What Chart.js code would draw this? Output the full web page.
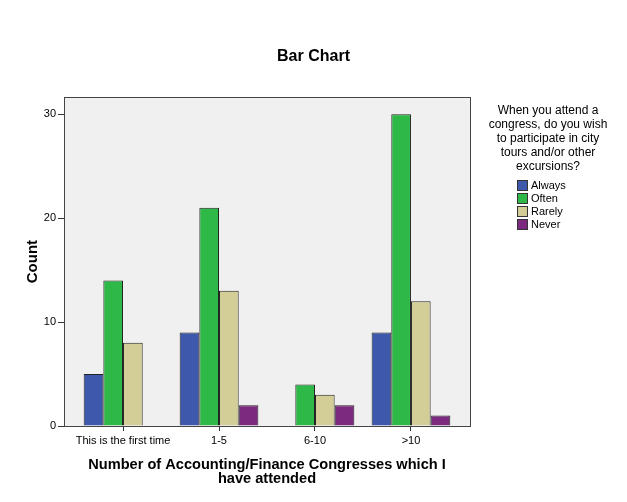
<!DOCTYPE html>
<html>
<head>
<meta charset="utf-8">
<script src="https://cdn.jsdelivr.net/npm/chart.js@4/dist/chart.umd.min.js"></script>
<style>
  html, body { margin: 0; padding: 0; background: #fff; }
  #wrap { width: 627px; height: 502px; }
</style>
</head>
<body>
<div id="wrap"><canvas id="myChart" width="627" height="502"></canvas></div>
<script>
// Data
let categories = ["This is the first time", "1-5", "6-10", ">10"];
let always = [5, 9, 0, 9];
let often = [14, 21, 4, 30];
let rarely = [8, 13, 3, 12];
let never = [0, 2, 2, 1];
let yTicks = [0, 10, 20, 30];
let legendTitle = ["When you attend a", "congress, do you wish", "to participate in city", "tours and/or other", "excursions?"];

let font = "'Liberation Sans', Arial, sans-serif";
Chart.defaults.font.family = font;
Chart.defaults.color = "#000";

// turn the arrays into {x, y} points, empty cells are left out
function points(arr) {
    return arr.map((v, i) => ({ x: i, y: v === 0 ? null : v }));
}

function makeSet(label, arr, color) {
    return {
        label: label,
        data: points(arr),
        backgroundColor: color,
        borderColor: "#222",
        borderWidth: 1,
        categoryPercentage: 0.82,
        barPercentage: 1,
    };
}

// gray plot area with a frame
let plotBox = {
    id: "plotBox",
    beforeDatasetsDraw(chart) {
        let a = chart.chartArea;
        let c = chart.ctx;
        c.save();
        c.fillStyle = "#f0f0f0";
        c.fillRect(a.left, a.top, a.right - a.left, a.bottom - a.top);
        c.strokeStyle = "#444";
        c.lineWidth = 1;
        c.strokeRect(Math.round(a.left) + 0.5, Math.round(a.top) + 0.5, Math.round(a.right - a.left), Math.round(a.bottom - a.top));
        c.restore();
    },
};

// legend on the right, with its wrapped title
let sideLegend = {
    id: "sideLegend",
    afterDraw(chart) {
        let c = chart.ctx;
        c.save();
        c.fillStyle = "#000";
        c.textAlign = "center";
        c.textBaseline = "middle";
        c.font = "12px " + font;
        legendTitle.forEach((line, i) => {
            c.fillText(line, 548, 111 + i * 13.8);
        });
        c.textAlign = "left";
        c.font = "11px " + font;
        chart.data.datasets.forEach((ds, i) => {
            let y = 185 + i * 13;
            c.fillStyle = ds.backgroundColor;
            c.fillRect(517, y - 5, 11, 11);
            c.strokeStyle = "#333";
            c.strokeRect(517.5, y - 4.5, 10, 10);
            c.fillStyle = "#000";
            c.fillText(ds.label, 531, y + 0.5);
        });
        c.restore();
    },
};

new Chart(document.getElementById("myChart"), {
    type: "bar",
    data: {
        datasets: [
            makeSet("Always", always, "#3e58ac"),
            makeSet("Often", often, "#2eb848"),
            makeSet("Rarely", rarely, "#d3ce97"),
            makeSet("Never", never, "#7c2a7f"),
        ],
    },
    options: {
        responsive: false,
        animation: false,
        layout: { padding: 0 },
        plugins: {
            legend: { display: false },
            tooltip: { enabled: false },
            title: {
                display: true,
                text: "Bar Chart",
                font: { size: 16, weight: "bold" },
                padding: { top: 47, bottom: 31 },
            },
        },
        scales: {
            x: {
                type: "linear",
                offset: false,
                min: -0.615,
                max: 3.615,
                afterBuildTicks: (scale) => {
                    scale.ticks = categories.map((c, i) => ({ value: i }));
                },
                afterFit: (scale) => {
                    scale.height = 76;
                },
                ticks: {
                    font: { size: 11 },
                    padding: 3,
                    maxRotation: 0,
                    autoSkip: false,
                    callback: (v) => categories[v],
                },
                grid: { offset: false, drawOnChartArea: false, drawTicks: true, tickLength: 5, color: "#333" },
                border: { display: false },
                title: {
                    display: true,
                    text: ["Number of Accounting/Finance Congresses which I", "have attended"],
                    font: { size: 14.6, weight: "bold", lineHeight: 0.96 },
                    padding: { top: 4, bottom: 16 },
                },
            },
            y: {
                min: 0,
                max: 31.63,
                afterBuildTicks: (scale) => {
                    scale.ticks = yTicks.map((v) => ({ value: v }));
                },
                afterFit: (scale) => {
                    scale.width = 64;
                },
                ticks: { font: { size: 11 }, padding: 2 },
                grid: { drawOnChartArea: false, drawTicks: true, tickLength: 6, color: "#333" },
                border: { display: false },
                title: {
                    display: true,
                    text: "Count",
                    font: { size: 15, weight: "bold" },
                    padding: { top: 24, bottom: 0 },
                },
            },
            // empty space on the right that holds the legend
            side: {
                type: "linear",
                position: "right",
                display: true,
                afterFit: (scale) => {
                    scale.width = 157;
                },
                ticks: { display: false },
                grid: { display: false },
                border: { display: false },
            },
        },
    },
    plugins: [plotBox, sideLegend],
});
</script>
</body>
</html>
